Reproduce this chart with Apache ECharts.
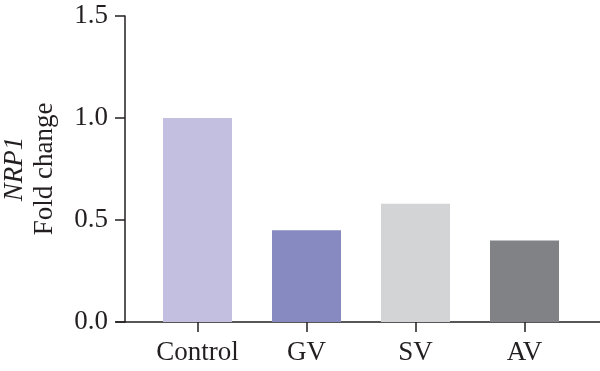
<!DOCTYPE html>
<html><head><meta charset="utf-8">
<script src="https://cdn.jsdelivr.net/npm/echarts@6/dist/echarts.min.js"></script>
<style>html,body{margin:0;padding:0;background:#fff}#c{width:600px;height:371px}</style>
</head><body><div id="c"></div>
<script>
var categories = ['Control', 'GV', 'SV', 'AV'];
var values = [1.0, 0.45, 0.58, 0.40];
var barColors = ['#c2bfe0', '#8789c1', '#d3d4d6', '#818286'];
var yTicks = [0, 0.5, 1.0, 1.5];

var font = 'Liberation Serif';
var ink = '#231f20';
var fs = 27;
var chart = echarts.init(document.getElementById('c'), null, {renderer: 'canvas'});
chart.setOption({
  animation: false,
  backgroundColor: '#fff',
  grid: [
    {left: 143, right: 21, top: 16, bottom: 49, containLabel: false, outerBoundsMode: 'none'},
    {left: 116, right: 0, top: 16, bottom: 49, containLabel: false, outerBoundsMode: 'none'}
  ],
  xAxis: [
    {type: 'category', gridIndex: 0, data: categories,
     axisLine: {show: false},
     axisTick: {show: true, alignWithLabel: true, length: 10, lineStyle: {color: ink, width: 1.5}},
     axisLabel: {color: ink, fontFamily: font, fontSize: fs, margin: 17}},
    {type: 'value', gridIndex: 1, min: 0, max: 1,
     axisLine: {show: true, lineStyle: {color: ink, width: 1.5}},
     axisTick: {show: false}, axisLabel: {show: false}, splitLine: {show: false}}
  ],
  yAxis: [
    {type: 'value', gridIndex: 0, min: 0, max: 1.5, interval: 0.5, offset: 18,
     axisLine: {show: true, lineStyle: {color: ink, width: 1.5}},
     axisTick: {show: true, length: 10, lineStyle: {color: ink, width: 1.5}},
     splitLine: {show: false},
     axisLabel: {color: ink, fontFamily: font, fontSize: fs, margin: 17,
       formatter: function (v) { return v.toFixed(1); }},
     name: '{i|NRP1}\n{r|Fold change}', nameLocation: 'middle', nameRotate: 90, nameGap: 65,
     nameTextStyle: {color: ink, fontFamily: font, fontSize: fs, lineHeight: 30,
       rich: {i: {fontStyle: 'italic', fontFamily: font, fontSize: fs, color: ink, lineHeight: 30},
              r: {fontFamily: font, fontSize: fs, color: ink, lineHeight: 30}}}},
    {type: 'value', gridIndex: 1, show: false, min: 0, max: 1}
  ],
  series: [{
    type: 'bar', xAxisIndex: 0, yAxisIndex: 0, barWidth: 69,
    data: values.map(function (v, i) { return {value: v, itemStyle: {color: barColors[i]}}; })
  }]
});
</script></body></html>
